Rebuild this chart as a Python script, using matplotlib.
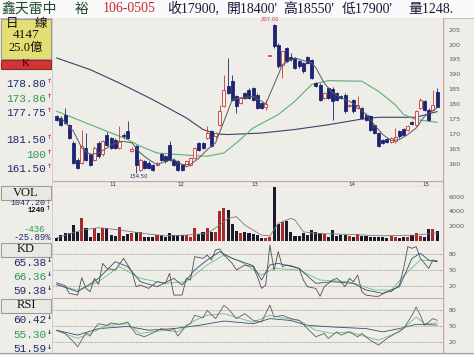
import numpy as np
import matplotlib
matplotlib.use("Agg")
import matplotlib.pyplot as plt
from matplotlib.patches import Rectangle

plt.rcParams['font.family'] = ['Liberation Serif', 'Noto Sans CJK TC', 'DejaVu Sans']

# ---------------- data ----------------
opens = [175.9, 175.4, 176.5, 173.1, 167.0, 161.4, 160.3, 165.3, 163.1, 161.4,
         167.0, 163.1, 169.8, 168.7, 168.1, 165.3, 169.8, 170.9, 164.2, 165.9,
         158.0, 160.8, 160.3, 159.7, 159.7, 163.1, 162.5, 166.4, 161.4, 160.8,
         159.7, 159.2, 159.7, 161.9, 167.0, 167.0, 168.7, 170.9, 169.2, 173.1,
         179.3, 186.0, 187.7, 182.6, 180.4, 183.8, 184.9, 185.4, 183.2, 180.4,
         179.0, 196.3, 206.5, 200.0, 193.3, 198.9, 196.0, 195.5, 194.4, 193.8,
         195.7, 194.9, 187.1, 186.6, 182.1, 185.4, 185.2, 183.8, 182.6, 183.2,
         179.3, 181.5, 178.7, 178.7, 176.5, 175.9, 173.1, 170.3, 167.8, 168.4,
         167.3, 167.5, 170.9, 171.7, 171.4, 173.9, 173.1, 178.7, 181.0, 178.2,
         178.2, 184.0]
highs = [176.5, 176.0, 178.7, 173.5, 167.5, 162.0, 171.4, 170.3, 163.5, 165.8,
         167.5, 168.0, 170.5, 169.0, 168.5, 172.6, 170.2, 174.2, 165.5, 166.4,
         162.0, 161.2, 160.8, 160.0, 160.6, 163.6, 163.0, 167.5, 161.8, 161.2,
         160.0, 161.2, 162.3, 165.7, 167.4, 167.4, 172.6, 171.3, 170.7, 179.8,
         189.9, 195.5, 189.9, 183.0, 182.5, 184.2, 185.3, 185.8, 183.6, 180.8,
         181.5, 196.3, 207.0, 200.5, 198.0, 199.3, 197.2, 195.9, 194.8, 194.2,
         196.1, 195.3, 187.5, 187.0, 184.2, 185.8, 185.6, 184.2, 183.0, 183.6,
         180.2, 181.9, 182.6, 179.1, 176.9, 176.3, 173.5, 170.7, 168.2, 168.8,
         169.1, 172.0, 171.3, 172.1, 172.9, 174.3, 178.0, 182.1, 181.4, 178.6,
         184.9, 185.5]
lows = [174.3, 172.5, 173.2, 168.2, 159.8, 158.2, 159.8, 161.0, 159.2, 161.0,
        162.0, 162.6, 166.0, 164.9, 165.0, 165.0, 168.8, 168.3, 163.8, 156.8,
        157.5, 158.2, 158.2, 157.6, 159.4, 161.0, 160.4, 161.0, 159.3, 157.6,
        157.6, 158.8, 159.3, 161.5, 164.3, 165.0, 168.3, 165.5, 168.8, 172.7,
        178.9, 183.4, 181.1, 177.0, 180.0, 181.7, 181.7, 181.1, 178.3, 178.3,
        178.2, 196.3, 199.0, 192.3, 188.8, 194.0, 194.6, 191.8, 192.3, 190.6,
        193.4, 188.4, 185.6, 181.1, 181.7, 181.7, 174.8, 181.1, 181.7, 177.2,
        178.9, 177.2, 178.3, 175.0, 174.4, 171.0, 169.9, 165.5, 166.6, 166.9,
        166.9, 167.1, 168.8, 169.4, 171.0, 173.0, 172.7, 178.3, 177.8, 174.4,
        177.8, 179.0]
closes = [174.8, 173.1, 173.7, 168.7, 160.3, 158.6, 165.9, 161.4, 159.7, 165.3,
          162.5, 167.5, 166.4, 165.3, 165.3, 167.5, 169.2, 168.7, 165.0, 159.7,
          161.4, 158.6, 158.6, 158.0, 160.3, 161.4, 160.8, 161.4, 159.7, 158.0,
          158.0, 160.8, 161.9, 165.3, 164.7, 165.3, 170.3, 165.9, 170.3, 177.6,
          184.9, 183.8, 181.5, 179.3, 182.1, 182.1, 182.1, 181.5, 178.7, 178.7,
          180.1, 196.3, 199.4, 192.7, 197.7, 194.4, 195.0, 192.2, 192.7, 191.0,
          193.8, 188.8, 186.0, 181.5, 183.8, 182.1, 181.0, 181.5, 182.1, 177.6,
          179.8, 177.6, 179.6, 175.4, 174.8, 171.4, 170.3, 165.9, 167.0, 167.3,
          168.7, 168.9, 169.2, 169.8, 172.5, 173.4, 177.6, 181.5, 178.2, 174.8,
          179.8, 179.0]
volumes = [276, 736, 966, 966, 2116, 1104, 3036, 1748, 506, 1748,
           966, 1748, 1656, 736, 644, 1886, 644, 874, 966, 1196,
           1104, 506, 414, 414, 736, 736, 506, 966, 736, 736,
           736, 736, 460, 1748, 828, 1104, 1656, 1104, 1196, 4048,
           4508, 4186, 2254, 1288, 1058, 1104, 966, 828, 736, 276,
           368, 506, 7268, 2208, 2484, 2668, 1196, 644, 598, 966,
           736, 1426, 1196, 966, 828, 506, 1426, 644, 736, 736,
           644, 506, 828, 644, 644, 506, 506, 460, 506, 368,
           598, 414, 368, 414, 506, 736, 966, 644, 506, 1564,
           1518, 1248]

high_mark = 207.00
low_mark = 154.50

month_ticks = [13.5, 29.7, 47.4, 70.6, 88.3]
month_labels = ["11", "12", "13", "14", "15"]
price_ticks = [160, 165, 170, 175, 180, 185, 190, 195, 200, 205]
vol_ticks = [2000, 4000, 6000]
osc_ticks = [20, 50, 80]

ma_short_idx = [1, 4, 6, 8, 10, 12, 14, 16, 18, 20, 22, 24, 26, 28, 30, 32, 34, 36, 38, 40,
                42, 44, 47, 49, 50, 52, 53, 54, 57, 61, 62, 64, 66, 68, 70, 72, 74, 76, 78, 80,
                82, 84, 86, 88, 91]
ma_short_val = [175.4, 170.9, 165.3, 163.1, 163.6, 165.3, 167.0, 167.5, 167.0, 163.6,
                161.4, 159.7, 160.8, 161.4, 159.7, 159.7, 161.9, 164.7, 167.0, 174.2,
                181.5, 182.1, 182.6, 181.0, 180.1, 186.6, 189.9, 193.3, 195.5, 193.8,
                192.2, 187.1, 183.8, 182.1, 181.0, 179.3, 176.5, 173.1, 169.8, 167.8,
                168.1, 169.8, 172.0, 175.9, 178.8]
ma_mid_idx = [0, 4, 12, 16, 20, 24, 32, 36, 40, 43, 47, 53, 57, 61, 65, 73, 77, 81, 83, 86, 91]
ma_mid_val = [177.6, 175.4, 170.9, 168.7, 165.9, 163.6, 162.8, 162.5, 163.6, 167.0,
              172.0, 176.5, 181.0, 186.6, 187.9, 187.7, 184.3, 179.8, 176.5, 174.8, 173.9]
ma_long_idx = [0, 8, 15, 23, 31, 35, 38, 41, 49, 57, 65, 73, 77, 86, 91]
ma_long_val = [195.5, 191.6, 187.1, 181.5, 175.4, 171.5, 170.0, 169.8, 170.3, 171.5,
               173.1, 175.0, 175.6, 175.6, 177.5]

vol_ma_idx = [0, 6, 10, 12, 18, 22, 26, 31, 36, 39, 41, 43, 45, 49, 51, 53, 56, 57, 59, 62, 70, 78, 86, 91]
vol_ma_val = [368, 1426, 1748, 1656, 1196, 874, 644, 736, 966, 2116, 3036, 3266, 2116, 736,
              644, 2346, 3036, 2806, 1196, 966, 828, 644, 736, 1047]

k_fast_idx = [0, 2, 3, 5, 6, 7, 8, 9, 10, 11, 12, 14, 16, 17, 18, 19, 20, 22, 23, 24,
              26, 27, 28, 30, 31, 32, 33, 35, 36, 37, 38, 39, 40, 42, 43, 45, 47, 48, 49, 50,
              51, 52, 53, 54, 55, 56, 58, 59, 60, 62, 63, 64, 66, 67, 68, 69, 70, 71, 72, 73,
              74, 76, 77, 79, 80, 82, 83, 84, 85, 86, 87, 89, 90, 91]
k_fast_val = [25.7, 20, 5.5, 2.3, 35.2, 15, 8.6, 33.9, 22.5, 62.3,
              52.8, 49.7, 71.8, 59.2, 46.5, 18.1, 21.3, 14.9, 21.3, 27.6,
              24.4, 43.4, 2.3, 2.3, 33.9, 30.7, 75, 71.8, 78.1, 68.6,
              87.6, 89.5, 78.1, 62.3, 49.7, 59.2, 56, 37.1, 14.9, 21.3,
              97, 49.7, 84.4, 56, 59.2, 57.9, 52.8, 30.7, 18.1, 14.9,
              0, 18.1, 30.7, 33.9, 27.6, 18.1, 33.9, 27.6, 40.2, 8.6,
              2.3, 0, 0, 8.6, 8.6, 21.3, 52.8, 93.9, 90.8, 93.9,
              71.8, 52.8, 68.6, 66.7]
k_idx = [0, 5, 7, 10, 14, 17, 20, 24, 28, 30, 33, 36, 39, 42, 47, 49, 51, 53, 58, 62,
         66, 71, 74, 78, 82, 85, 87, 89, 91]
k_val = [22.5, 8.6, 18.1, 33.9, 65.5, 56, 27.6, 18.1, 33.9, 21.3, 49.7, 68.6, 84.4, 71.8,
         57.9, 30.7, 59.2, 62.3, 52.8, 24.4, 27.6, 24.4, 11.8, 5.5, 18.1, 71.8, 81.3, 68.6, 65.4]
d_idx = [0, 5, 10, 15, 20, 26, 31, 36, 40, 44, 49, 52, 58, 63, 70, 76, 80, 84, 87, 91]
d_val = [21.3, 11.8, 27.6, 56, 33.9, 24.4, 27.6, 59.2, 78.1, 65.5, 40.2, 52.8, 49.7, 30.7,
         27.6, 11.8, 11.8, 46.5, 68.6, 66.4]

rsi_fast_idx = [0, 2, 4, 5, 7, 8, 9, 10, 12, 13, 15, 17, 18, 19, 21, 23, 25, 27, 28, 29,
                31, 32, 33, 35, 36, 38, 40, 41, 43, 45, 47, 49, 51, 52, 54, 56, 58, 60, 62, 64,
                65, 67, 68, 70, 72, 73, 75, 77, 79, 81, 83, 85, 86, 87, 88, 90, 91]
rsi_fast_val = [42, 36, 20.6, 11.4, 37, 31, 45, 54, 51, 55.5,
                53, 57, 45, 35, 30, 37, 45, 41, 45, 31,
                51, 54, 69.6, 65, 78.8, 63.5, 88, 82, 63.5, 72.7,
                60.4, 57.3, 88.6, 66.5, 69.6, 63.5, 60.4, 45, 29.8, 36,
                26.7, 39, 33, 39, 29.8, 36, 23.7, 14.5, 26.7, 36,
                45, 69.6, 85, 69.6, 51, 63.5, 60.4]
rsi_mid_idx = [0, 5, 8, 12, 17, 20, 26, 29, 33, 36, 40, 44, 47, 51, 54, 58, 62, 66, 70, 74,
               77, 82, 86, 88, 91]
rsi_mid_val = [41, 27, 36, 51, 54, 36, 42, 39, 60, 69.6, 72.7, 63.5, 57, 69.6, 65, 60, 42, 36,
               39, 30, 23.7, 39, 66.5, 54, 55.3]
rsi_slow_idx = [0, 5, 10, 17, 22, 28, 34, 40, 47, 51, 56, 60, 66, 74, 78, 82, 86, 91]
rsi_slow_val = [42, 33, 45, 49, 42, 45, 51, 59, 54, 63.5, 60, 51, 48, 45, 39, 45, 53, 51.6]

title_parts = [("鑫天雷中", 1, '#1d4a2a'), ("裕", 75, '#1d4a2a'), ("106-0505", 103, '#c8282c'),
               ("收17900,", 167, '#1a1a3a'), ("開18400'", 227, '#1a1a3a'),
               ("高18550'", 283, '#1a1a3a'), ("低17900'", 342, '#1a1a3a'),
               ("量1248.", 408, '#1a1a3a')]
k_labels = [("178.80", 84, 'n', '↑'), ("173.86", 98.5, 'g', '↑'), ("177.75", 113, 'n', '↑'),
            ("181.50", 140, 'n', '↑'), ("100", 154.5, 'g', '↑'), ("161.50", 169, 'n', '↑')]
kd_labels = [("65.38", 263, 'n', '↓'), ("66.36", 277, 'g', '↓'), ("59.38", 291, 'n', '↓')]
rsi_labels = [("60.42", 320, 'n', '↓'), ("55.30", 335, 'g', '↓'), ("51.59", 349.5, 'n', '↓')]

# ---------------- figure ----------------
W, H = 474, 355
BG = '#eeede7'
NAVY = '#1c2a6e'
GREEN = '#2a9a58'
UPC = '#c8383c'
DNC = '#1e2472'
FRAME = '#c9a3a3'

fig = plt.figure(figsize=(W / 100, H / 100), dpi=100, facecolor=BG)

ov = fig.add_axes([0, 0, 1, 1])
ov.set_xlim(0, W)
ov.set_ylim(H, 0)
ov.axis('off')


def pax(x0, y0, x1, y1):
    ax = fig.add_axes([x0 / W, 1 - y1 / H, (x1 - x0) / W, (y1 - y0) / H])
    ax.set_facecolor(BG)
    for s in ax.spines.values():
        s.set_visible(False)
    ax.set_xlim(-0.89, 92.42)
    ax.tick_params(axis='x', length=0, labelbottom=False)
    ax.yaxis.tick_right()
    ax.tick_params(axis='y', length=0, labelsize=4.6, labelcolor='#5a5a5a', pad=4)
    return ax


x = np.arange(len(closes))
o = np.array(opens)
c = np.array(closes)
up = c >= o

# main price panel
ax = pax(53, 18, 443, 181)
ax.set_ylim(154.2, 208.93)
ax.set_yticks(price_ticks)
ax.set_yticklabels([str(t) for t in price_ticks], family='DejaVu Sans')
ax.plot(ma_long_idx, ma_long_val, color='#3d4168', lw=0.8, zorder=2)
ax.plot(ma_mid_idx, ma_mid_val, color='#5cb07a', lw=0.8, zorder=2)
for i in x:
    ax.vlines(i, lows[i], highs[i], color=UPC if up[i] else DNC, lw=0.6, zorder=3)
body_h = np.maximum(np.abs(c - o), 0.25)
ax.bar(x, body_h, bottom=np.minimum(o, c), width=0.72,
       color=['#f7f4f2' if u else DNC for u in up],
       edgecolor=[UPC if u else DNC for u in up], linewidth=0.6, zorder=4)
ax.plot(ma_short_idx, ma_short_val, color='#5a5a5a', lw=0.7, zorder=5)
imax = int(np.argmax(highs))
imin = int(np.argmin(lows))
ax.text(imax - 1, highs[imax] + 0.5, f"{high_mark:.2f}", color=UPC, fontsize=3.8,
        ha='center', va='bottom', family='DejaVu Sans')
ax.text(imin + 0.6, lows[imin] - 0.4, f"{low_mark:.2f}", color=NAVY, fontsize=3.8,
        ha='center', va='top', family='DejaVu Sans')
ax.set_xticks(month_ticks)
ax.set_xticklabels(month_labels, family='DejaVu Sans')
ax.tick_params(axis='x', labelbottom=True, labelsize=4, pad=1.0, labelcolor='#333333')

# volume panel
axv = pax(53, 187, 443, 240.5)
axv.set_ylim(0, 7330)
axv.set_yticks(vol_ticks)
axv.set_yticklabels([str(t) for t in vol_ticks], family='DejaVu Sans')
axv.bar(x, volumes, width=0.74, color=['#a8282c' if u else '#1b1b2b' for u in up], zorder=3)
axv.plot(vol_ma_idx, vol_ma_val, color='#7a7a7a', lw=0.6, zorder=4)

# KD panel
axk = pax(53, 243, 443, 297.5)
axk.set_ylim(-2.3, 100.8)
axk.set_yticks(osc_ticks)
axk.set_yticklabels([str(t) for t in osc_ticks], family='DejaVu Sans')
for t in osc_ticks:
    axk.axhline(t, color='#8a8a8a', lw=0.5, ls=(0, (2, 1.5)), zorder=1)
axk.plot(d_idx, d_val, color='#6cbf8c', lw=0.6, zorder=3)
axk.plot(k_idx, k_val, color='#3a4a7a', lw=0.6, zorder=3)
axk.plot(k_fast_idx, k_fast_val, color='#505050', lw=0.6, zorder=4)

# RSI panel
axr = pax(53, 298.5, 443, 352)
axr.set_ylim(1.7, 100.7)
axr.set_yticks(osc_ticks)
axr.set_yticklabels([str(t) for t in osc_ticks], family='DejaVu Sans')
for t in osc_ticks:
    axr.axhline(t, color='#8a8a8a', lw=0.5, ls=(0, (2, 1.5)), zorder=1)
axr.plot(rsi_slow_idx, rsi_slow_val, color='#3a4a7a', lw=0.6, zorder=3)
axr.plot(rsi_mid_idx, rsi_mid_val, color='#6cbf8c', lw=0.6, zorder=3)
axr.plot(rsi_fast_idx, rsi_fast_val, color='#606060', lw=0.6, zorder=4)

# ---------------- frame lines ----------------
ov.add_patch(Rectangle((0, 0), W, 17.5, facecolor='#fafafa', edgecolor='none', zorder=0))
ov.plot([0, W], [17.5, 17.5], color='#b8b8b8', lw=0.6)
ov.plot([443, 443], [18, 352], color=FRAME, lw=0.9)
ov.plot([53, 443], [181, 181], color=FRAME, lw=0.9)
ov.plot([53, 443], [187, 187], color=FRAME, lw=0.9)
ov.plot([53, 443], [297.7, 297.7], color=FRAME, lw=0.9)
ov.plot([52, 52], [18, 352], color='#c8c8c8', lw=0.6)
ov.plot([0, W], [352.5, 352.5], color='#a0a0a0', lw=0.8)

# ---------------- title ----------------
for txt, xx, col in title_parts:
    ov.text(xx, 9, txt, color=col, fontsize=10, ha='left', va='center')


# ---------------- left info panel ----------------
def box(x0, y0, x1, y1, fc, ec='#9c9c9c'):
    ov.add_patch(Rectangle((x0, y0), x1 - x0, y1 - y0, facecolor=fc, edgecolor=ec, linewidth=0.8))


box(0.5, 18.5, 51.5, 58.5, '#e5de72')
ov.text(12, 24, "日", fontsize=9, ha='center', va='center', color='#111111')
ov.text(41, 24, "線", fontsize=9, ha='center', va='center', color='#111111')
ov.text(26.5, 35.5, "4147", fontsize=9.5, ha='center', va='center', color='#111111')
ov.text(26, 48, "25.0億", fontsize=9, ha='center', va='center', color='#111111')
box(0.5, 59.5, 51.5, 68.5, '#d53434', '#8a2a2a')
ov.text(26, 64, "K", fontsize=8, ha='center', va='center', color='#3a0000')

cmap = {'n': NAVY, 'g': GREEN}


def value_rows(rows):
    for txt, yy, cc, arr in rows:
        ov.text(46, yy, txt, fontsize=8, ha='right', va='center', color=cmap[cc],
                family='Liberation Mono')
        ov.text(46.5, yy - 2.5, arr, fontsize=4.5, ha='left', va='center',
                color=UPC if arr == '↑' else NAVY, family='DejaVu Sans', fontweight='bold')


value_rows(k_labels)

box(0.5, 185.5, 51.5, 199.5, '#e9e9e4')
ov.text(26, 192.5, "VOL", fontsize=9, ha='center', va='center', color='#111111')
ov.text(45.5, 203.8, "1047.20", fontsize=6, ha='right', va='center', color=NAVY, family='Liberation Mono')
ov.text(46, 202, "↑", fontsize=4, ha='left', va='center', color=UPC, family='DejaVu Sans', fontweight='bold')
ov.text(45.5, 210.2, "1240", fontsize=5.3, ha='right', va='center', color='#111111', family='Liberation Mono',
        fontweight='bold')
ov.text(46, 208.8, "↑", fontsize=4, ha='left', va='center', color=NAVY, family='DejaVu Sans', fontweight='bold')
ov.text(45.5, 229, "-436", fontsize=6.5, ha='right', va='center', color=GREEN, family='Liberation Mono')
ov.text(51, 237.5, "-25.89%", fontsize=6.5, ha='right', va='center', color=NAVY, family='Liberation Mono')

box(0.5, 242.5, 51.5, 256.5, '#e9e9e4')
ov.text(26, 249.5, "KD", fontsize=9, ha='center', va='center', color='#111111')
value_rows(kd_labels)

box(0.5, 298.5, 51.5, 312.5, '#e9e9e4')
ov.text(26, 305.5, "RSI", fontsize=9, ha='center', va='center', color='#111111')
value_rows(rsi_labels)

fig.savefig("out.png", dpi=100, facecolor=BG)
